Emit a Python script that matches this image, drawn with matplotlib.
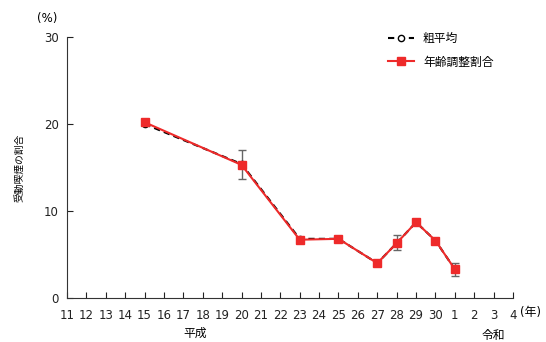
import matplotlib.pyplot as plt

plt.rcParams['font.family'] = ['DejaVu Sans', 'Noto Sans CJK JP']

# x axis categories (平成11..30, 令和1..4)
tick_labels = [str(y) for y in range(11, 31)] + ["1", "2", "3", "4"]

# survey years (as tick labels) and values
years = ["15", "20", "23", "25", "27", "28", "29", "30", "1"]
crude = [20.0, 15.4, 6.8, 6.8, 4.0, 6.3, 8.7, 6.6, 3.3]
adjusted = [20.2, 15.3, 6.7, 6.8, 4.0, 6.3, 8.7, 6.6, 3.3]
err_low = [0.0, 1.6, 0.0, 0.0, 0.0, 0.8, 0.0, 0.0, 0.8]
err_high = [0.0, 1.7, 0.0, 0.0, 0.0, 0.9, 0.0, 0.0, 0.7]

# last year is 令和1, earlier ones are 平成
pos = [tick_labels.index(y) for y in years[:-1]]
pos.append(tick_labels.index("1"))

fig = plt.figure(figsize=(5.46, 3.42), dpi=100)
ax = fig.add_axes([0.1227, 0.1287, 0.8169, 0.7631])

ax.errorbar(pos, adjusted, yerr=[err_low, err_high], fmt="none",
            ecolor="#666666", elinewidth=1, capsize=3, zorder=1)
ax.plot(pos, crude, linestyle=(0, (3, 2)), color="black", linewidth=1.5,
        marker="o", markersize=4.5, markerfacecolor="white",
        markeredgecolor="black", label="粗平均", zorder=2)
ax.plot(pos, adjusted, color="#ee2a2a", linewidth=1.5, marker="s",
        markersize=5.5, label="年齢調整割合", zorder=3)

ax.set_xlim(0, len(tick_labels) - 1)
ax.set_ylim(0, 30)
ax.set_xticks(range(len(tick_labels)))
ax.set_xticklabels(tick_labels)
ax.set_yticks([0, 10, 20, 30])
ax.tick_params(direction="in", length=4, labelsize=8.5, colors="#222222")
ax.tick_params(axis="x", pad=8)
ax.tick_params(axis="y", pad=6)
for s in ["top", "right"]:
    ax.spines[s].set_visible(False)
for s in ["left", "bottom"]:
    ax.spines[s].set_color("#333333")

ax.set_ylabel("受動喫煙の割合", fontsize=7, labelpad=14,
              family=['Noto Sans CJK JP'])
fig.text(0.087, 0.945, "(%)", fontsize=8.5, ha="center", va="center")
fig.text(0.972, 0.085, "(年)", fontsize=8.5, ha="center", va="center")
fig.text(0.357, 0.025, "平成", fontsize=8.5, ha="center", va="center")
fig.text(0.903, 0.018, "令和", fontsize=8.5, ha="center", va="center")

ax.legend(loc="upper right", bbox_to_anchor=(0.98, 1.06), frameon=False,
          fontsize=8.5, handlelength=2.2, labelspacing=0.9,
          prop={'family': ['Noto Sans CJK JP'], 'size': 8.5})

plt.savefig("out.png", dpi=100)
